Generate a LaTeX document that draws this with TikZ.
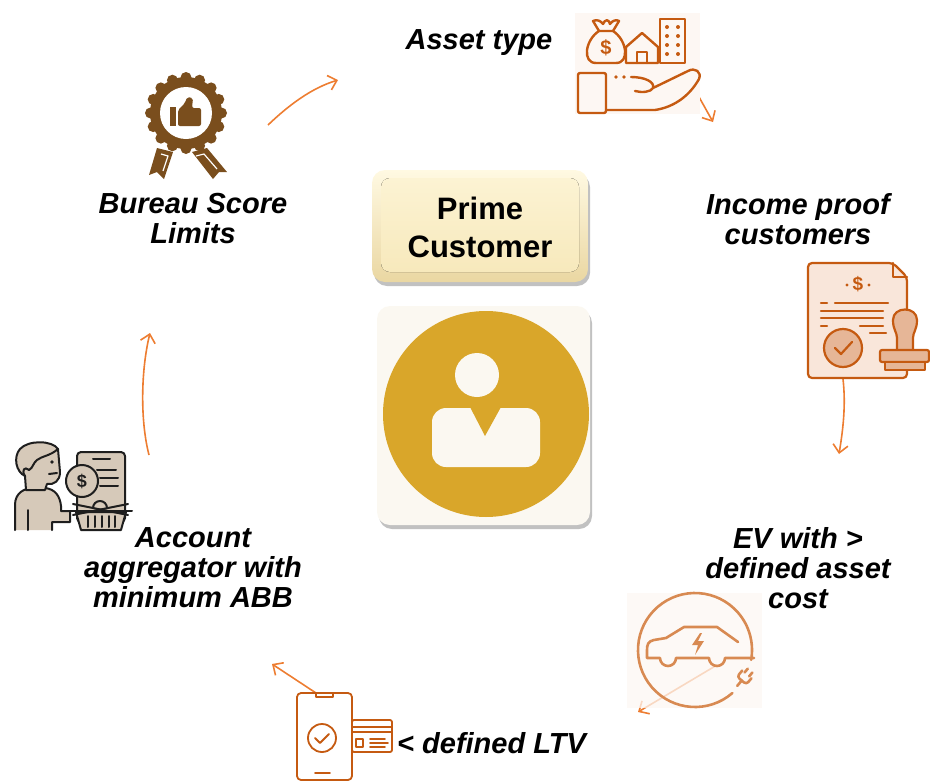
\documentclass[tikz,border=0pt]{standalone}
\usepackage{fontspec}
\setmainfont{Liberation Sans}
\usetikzlibrary{arrows.meta,shadows,calc}

\definecolor{flow}{HTML}{ED7D31}
\definecolor{rust}{HTML}{C55A11}
\definecolor{rustfill}{HTML}{F9E6DA}
\definecolor{rustmid}{HTML}{E6B697}
\definecolor{copper}{HTML}{D88A52}
\definecolor{bronze}{HTML}{7A4E1D}
\definecolor{gold}{HTML}{D9A62A}
\definecolor{cream}{HTML}{FBF8F1}
\definecolor{sand}{HTML}{D6C9B9}
\definecolor{ink}{HTML}{1E1E1E}
\definecolor{tilebg}{HTML}{FDF7F3}
\definecolor{paneltop}{HTML}{FFF9E2}
\definecolor{panelbot}{HTML}{EAD7A2}
\definecolor{facetop}{HTML}{FCF3D3}
\definecolor{facebot}{HTML}{F7E9BC}

\tikzset{
  flowarrow/.style={draw=flow, line width=1.6pt,
    -{Straight Barb[length=8pt,width=15pt,line width=1.6pt]}},
  steplabel/.style={font=\bfseries\itshape\fontsize{29}{30}\selectfont,
    align=center, text=black, inner sep=0pt},
  panel/.style={rounded corners=13pt,
    drop shadow={shadow xshift=2pt, shadow yshift=-4pt, opacity=0.35, fill=black!70}},
}

\begin{document}
\begin{tikzpicture}[x=1pt,y=-1pt]
\useasboundingbox (0,0) rectangle (930,782);

% ---------- arrows (drawn first so icon tiles can sit on top) ----------
\coordinate (a1s) at (268,125); \coordinate (a1e) at (338,80);
\coordinate (a2s) at (694,88);  \coordinate (a2e) at (713,122);
\coordinate (a3s) at (843,379); \coordinate (a3e) at (839,454);
\coordinate (a4s) at (717,665); \coordinate (a4e) at (638,712);
\coordinate (a5s) at (316,693); \coordinate (a5e) at (272,664);
\coordinate (a6s) at (149,455); \coordinate (a6e) at (150,333);

\draw[flowarrow] (a1s) .. controls (290,104) and (312,88) .. (a1e);
\draw[flowarrow] (a2s) -- (a2e);
\draw[flowarrow] (a3s) .. controls (846,405) and (843,430) .. (a3e);
\draw[flowarrow] (a4s) -- (a4e);
\draw[flowarrow] (a5s) -- (a5e);
\draw[flowarrow] (a6s) .. controls (140,420) and (141,370) .. (a6e);

% ---------- centre: title panel ----------
\path[panel, top color=paneltop, bottom color=panelbot]
  (372,170) rectangle (588,282);
\fill[rounded corners=9pt, top color=facetop, bottom color=facebot]
  (381,178) rectangle (579,272);
\node[font=\bfseries\fontsize{31}{38}\selectfont, align=center] (title) at (480,227)
  {Prime\\Customer};

% ---------- centre: customer avatar ----------
\path[panel, fill=cream] (377,306) rectangle (590,525);
\fill[gold] (486,414) circle (103);
\fill[cream] (477,375) circle (22);
\fill[cream, rounded corners=14pt] (432,467) -- (432,408) -- (540,408) -- (540,467) -- cycle;
\fill[gold] (470,407) -- (485,436) -- (501,407) -- cycle;
\node (avatar) at (486,414) {};

% ---------- asset type icon ----------
\fill[tilebg] (575,13) rectangle (700,114);
\begin{scope}[draw=rust, line width=2.4pt, line join=round, line cap=round]
  \draw (599,31) .. controls (585,40) and (582,63) .. (596,63) -- (616,63)
        .. controls (630,63) and (627,40) .. (613,31) -- cycle;
  \draw (599,31) -- (593,21) .. controls (597,19) and (601,21) .. (603,24)
        .. controls (605,19) and (609,19) .. (610,24)
        .. controls (612,21) and (616,19) .. (619,21) -- (613,31);
  \node[font=\bfseries\fontsize{20}{20}\selectfont, text=rust] at (606,48) {\$};
  \draw[fill=tilebg] (626,63) -- (626,47) -- (642,33) -- (658,47) -- (658,63) -- cycle;
  \draw (637,63) -- (637,52) -- (647,52) -- (647,63);
  \draw (660,19) rectangle (685,63);
  \foreach \yy in {27,36,45,54} {
    \fill[rust] (667,\yy) circle (2);
    \fill[rust] (678,\yy) circle (2);
  }
  \draw[rounded corners=2pt] (578,73) rectangle (606,113);
  \fill[rust] (616,77) circle (1.9); \fill[rust] (624,77) circle (1.9);
  \draw (631,77) .. controls (645,77) and (655,82) .. (653,88)
        .. controls (651,92) and (642,93) .. (635,91);
  \draw (653,88) -- (688,71) .. controls (695,67) and (702,72) .. (699,79)
        .. controls (690,95) and (675,107) .. (655,110) -- (606,110);
\end{scope}

% ---------- bureau score rosette ----------
\begin{scope}
  \fill[bronze] (157,148) -- (173,152) -- (164,179) -- (157,172) -- (149,175) -- cycle;
  \fill[bronze] (192,152) -- (207,148) -- (227,172) -- (219,172) -- (213,179) -- cycle;
  \draw[white, line width=1.2pt, line join=round] (161,154) -- (168,156) -- (163,171);
  \draw[white, line width=1.2pt, line join=round] (196,156) -- (204,154) -- (217,169);
  \fill[bronze] (186,113) circle (36);
  \foreach \a in {0,22.5,...,337.5}
    \fill[bronze] ($(186,113)+(\a:35.5)$) circle (5.5);
  \fill[white] (186,113) circle (26);
  \fill[bronze] (170,107) rectangle (176,126);
  \fill[bronze, rounded corners=2pt] (178,110) -- (185,103) -- (187,97) -- (193,98)
        -- (192,108) -- (201,108) -- (201,126) -- (178,126) -- cycle;
\end{scope}

% ---------- income proof document ----------
\begin{scope}[draw=rust, line width=2.2pt, line join=round, line cap=round]
  \draw[fill=rustfill, rounded corners=4pt] (808,378) -- (808,263) -- (893,263)
        -- (907,277) -- (907,378) -- cycle;
  \draw (893,263) -- (893,277) -- (907,277);
  \node[font=\bfseries\fontsize{19}{19}\selectfont, text=rust] at (858,284) {\$};
  \fill[rust] (847,285) circle (1.7); \fill[rust] (869,285) circle (1.7);
  \draw (821,303) -- (827,303); \draw (835,303) -- (888,303);
  \draw (821,311) -- (883,311);
  \draw (821,318) -- (883,318);
  \draw (821,326) -- (827,326); \draw (860,326) -- (883,326);
  \draw (870,333) -- (886,333);
  \draw[fill=rustmid] (843,348) circle (19);
  \draw (835,348) -- (841,354) -- (852,342);
  \draw[fill=rustmid] (897,350) -- (897,338) .. controls (897,332) and (893,330) .. (893,320)
        .. controls (893,306) and (917,306) .. (917,320)
        .. controls (917,330) and (913,332) .. (913,338) -- (913,350);
  \draw[fill=rustmid, rounded corners=2pt] (880,350) rectangle (929,362);
  \draw[fill=rustmid] (885,362) rectangle (925,370);
\end{scope}

% ---------- EV icon ----------
\fill[tilebg, opacity=0.75] (627,593) rectangle (762,708);
\begin{scope}[draw=copper, line width=2.6pt, line join=round, line cap=round]
  \draw ($(695,650)+(49:57)$) arc[start angle=49, end angle=370, radius=57];
  \draw (738,642) -- (717,627) -- (684,627) -- (666,638) -- (654,640)
        .. controls (648,641) and (647,645) .. (647,650) -- (647,658) -- (660,658)
        arc[start angle=180, end angle=0, radius=8] -- (709,658)
        arc[start angle=180, end angle=0, radius=8] -- (754,658);
  \fill[copper] (700,633) -- (692,645) -- (698,645) -- (695,655) -- (704,641) -- (698,641) -- (702,633) -- cycle;
  \begin{scope}[shift={(743,679)}, rotate=-40]
    \draw[rounded corners=3pt] (-6,-6) -- (-6,2) -- (6,2) -- (6,-6);
    \draw (-3,-6) -- (-3,-11); \draw (3,-6) -- (3,-11);
    \draw (0,2) -- (0,9);
  \end{scope}
\end{scope}

% ---------- LTV phone and card ----------
\begin{scope}[draw=rust, line width=1.8pt, line join=round, line cap=round]
  \draw[fill=white, rounded corners=4pt] (297,693) rectangle (352,780);
  \draw (316,693) -- (316,697) -- (333,697) -- (333,693);
  \draw (315,773) -- (330,773);
  \draw (322,738) circle (14);
  \draw (315,738) -- (320,743) -- (329,734);
  \draw[fill=white, rounded corners=2pt] (352,720) rectangle (392,752);
  \draw (352,727) -- (392,727); \draw (352,732) -- (392,732);
  \draw (356,739) rectangle (363,747);
  \draw (370,739) -- (385,739); \draw (370,743) -- (388,743); \draw (370,747) -- (385,747);
\end{scope}

% ---------- account aggregator icon ----------
\begin{scope}[draw=ink, fill=sand, line width=2pt, line join=round, line cap=round]
  \draw[fill=sand, rounded corners=4pt] (77,452) rectangle (125,522);
  \draw (93,459) -- (110,459);
  \draw (97,470) -- (116,470); \draw (100,478) -- (118,478); \draw (100,486) -- (118,486);
  % body
  \draw[fill=sand] (15,530) -- (15,505) .. controls (15,493) and (24,488) .. (34,488)
        -- (45,488) .. controls (55,489) and (60,496) .. (61,506) -- (61,511) -- (70,511)
        -- (70,522) -- (52,522) -- (52,530);
  \draw (28,510) -- (28,530);
  % face and hair
  \draw[fill=sand] (26,490) -- (25,476) .. controls (16,472) and (13,457) .. (20,449)
        .. controls (28,440) and (52,440) .. (58,449) -- (60,472)
        .. controls (60,481) and (54,485) .. (47,484) -- (45,490) -- cycle;
  \draw (58,449) .. controls (50,456) and (42,456) .. (37,460)
        .. controls (33,463) and (33,468) .. (29,470);
  \draw (29,470) .. controls (25,466) and (21,470) .. (25,476);
  \fill[ink] (52,462) circle (1.8);
  \draw (49,474) -- (57,473);
  % coin
  \draw[fill=sand] (82,481) circle (16);
  \node[font=\bfseries\fontsize{18}{18}\selectfont, text=ink] at (82,481) {\$};
  % basket
  \draw[fill=sand] (76,512) -- (126,512) -- (121,530) -- (81,530) -- cycle;
  \foreach \xx in {88,95,102,109,115} \draw (\xx,516) -- (\xx,527);
  \draw[fill=sand] (93,508) arc[start angle=180, end angle=360, radius=7];
  \draw (73,504) -- (128,515); \draw (73,515) -- (128,504);
  \draw (70,511) -- (132,511);
\end{scope}

% ---------- step labels ----------
\node[steplabel] (asset)   at (479,43)  {Asset type};
\node[steplabel] (bureau)  at (193,219) {Bureau Score\\Limits};
\node[steplabel] (income)  at (798,219) {Income proof\\customers};
\node[steplabel] (ev)      at (798,568) {EV with >\\defined asset\\cost};
\node[steplabel, anchor=west] (ltv) at (397,743) {< defined LTV};
\node[steplabel] (account) at (193,568) {Account\\aggregator with\\minimum ABB};

\end{tikzpicture}
\end{document}
